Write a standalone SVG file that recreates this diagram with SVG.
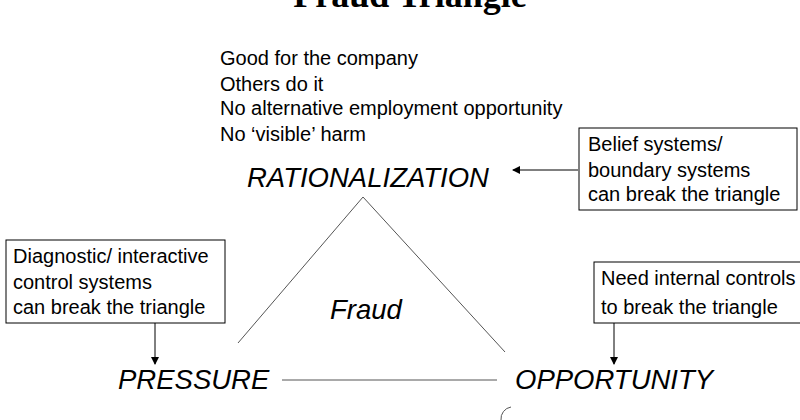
<svg xmlns="http://www.w3.org/2000/svg" width="800" height="420" viewBox="0 0 800 420">
<style>
text{font-family:"Liberation Sans",Arial,sans-serif;fill:#000}
.t{font-size:20px}
.big{font-size:27.5px;font-style:italic}
.box{fill:#fff;stroke:#000;stroke-width:1}
.ln{stroke:#000;stroke-width:1;fill:none}
.gr{stroke:#555;stroke-width:1;fill:none}
</style>
<defs><marker id="a" markerWidth="8" markerHeight="8" refX="7" refY="4" orient="auto" markerUnits="userSpaceOnUse"><path d="M0,0 L8,4 L0,8 z" fill="#000"/></marker></defs>
<text x="410" y="7" text-anchor="middle" style="font-family:'Liberation Serif',serif;font-weight:bold;font-size:36px">Fraud Triangle</text>
<g id="reasons">
<text class="t" x="220" y="65">Good for the company</text>
<text class="t" x="220" y="91">Others do it</text>
<text class="t" x="220" y="115">No alternative employment opportunity</text>
<text class="t" x="220" y="141">No ‘visible’ harm</text>
</g>
<g id="rationalization"><text class="big" x="247" y="187">RATIONALIZATION</text></g>
<g id="pressure"><text class="big" x="118" y="389">PRESSURE</text></g>
<g id="opportunity"><text class="big" x="515" y="389">OPPORTUNITY</text></g>
<g id="fraud"><text class="big" x="330" y="319">Fraud</text></g>
<g id="belief"><rect class="box" x="579" y="128" width="218" height="82"/>
<text class="t" x="588" y="151">Belief systems/</text>
<text class="t" x="588" y="177">boundary systems</text>
<text class="t" x="588" y="201">can break the triangle</text></g>
<g id="diagnostic"><rect class="box" x="6" y="240" width="219" height="83"/>
<text class="t" x="13" y="263">Diagnostic/ interactive</text>
<text class="t" x="13" y="289">control systems</text>
<text class="t" x="13" y="314">can break the triangle</text></g>
<g id="internal"><rect class="box" x="594" y="262" width="210" height="61"/>
<text class="t" x="601" y="285">Need internal controls</text>
<text class="t" x="601" y="314">to break the triangle</text></g>
<g id="connectors">
<line class="gr" x1="363" y1="197" x2="238" y2="343"/>
<line class="gr" x1="363" y1="197" x2="505" y2="352"/>
<line class="gr" x1="282" y1="380" x2="497" y2="380"/>
<line class="ln" x1="578" y1="170" x2="513" y2="170" marker-end="url(#a)"/>
<line class="ln" x1="155" y1="323" x2="155" y2="364" marker-end="url(#a)"/>
<line class="ln" x1="614" y1="323" x2="614" y2="364" marker-end="url(#a)"/>
<path class="gr" d="M511,407 A12,12 0 0 0 501,420"/>
</g>
</svg>
